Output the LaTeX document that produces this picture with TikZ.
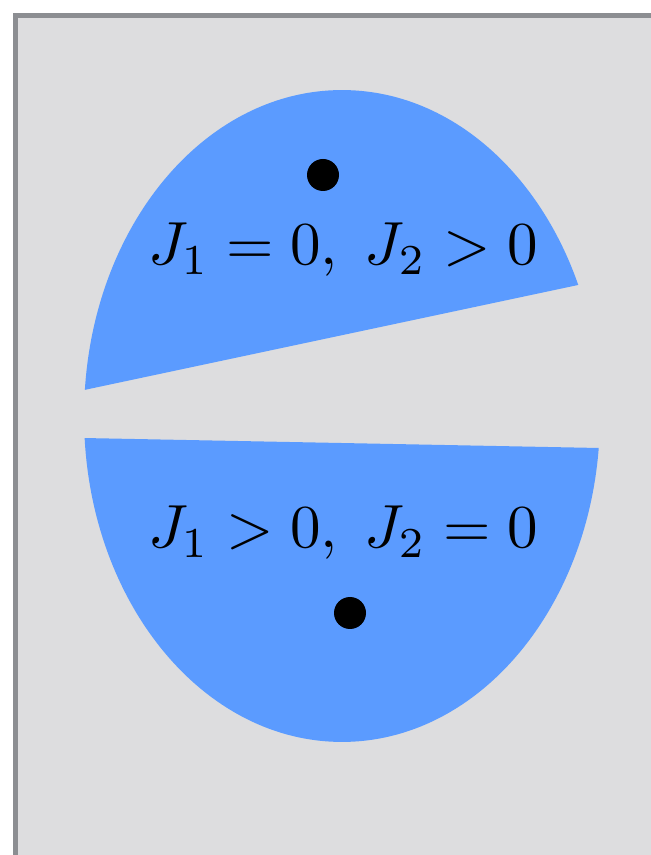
\documentclass[tikz,border=0pt]{standalone}
\usepackage{tikz}

\definecolor{panelgray}{RGB}{221,221,223}
\definecolor{framegray}{RGB}{140,142,146}
\definecolor{regionblue}{RGB}{91,155,255}

\begin{document}
\begin{tikzpicture}[
                x=0.02cm, y=0.02cm,
                region/.style={
                    fill=regionblue
                },
                dot/.style={
                    circle,
                    fill=black,
                    inner sep=0pt,
                    minimum size=0.64cm
                },
                regiontext/.style={
                    anchor=base,
                    scale=3.47,
                    text=black
                }
            ]

                \useasboundingbox (0,0) rectangle (651,855);
                \fill[white] (0,0) rectangle (651,855);
                \fill[panelgray] (13,0) rectangle (651,842);
                \draw[framegray, line width=0.1cm] (15.5,0) -- (15.5,839.5) -- (651,839.5);

                % upper piece
                \begin{scope}
                    \clip (0,447.1) -- (651,585.5) -- (651,855) -- (0,855) -- cycle;
                    \fill[region] (342,439) ellipse [x radius=5.16cm, y radius=6.52cm];
                \end{scope}

                % lower piece
                \begin{scope}
                    \clip (0,418.6) -- (651,406) -- (651,0) -- (0,0) -- cycle;
                    \fill[region] (342,439) ellipse [x radius=5.16cm, y radius=6.52cm];
                \end{scope}

                \node[dot] (top) at (323,680) {};
                \node[dot] (bottom) at (350,242) {};

                \node[regiontext] (upper) at (343,590) {$J_1=0,\; J_2>0$};
                \node[regiontext] (lower) at (343,307) {$J_1>0,\; J_2=0$};
        \end{tikzpicture}
\end{document}
